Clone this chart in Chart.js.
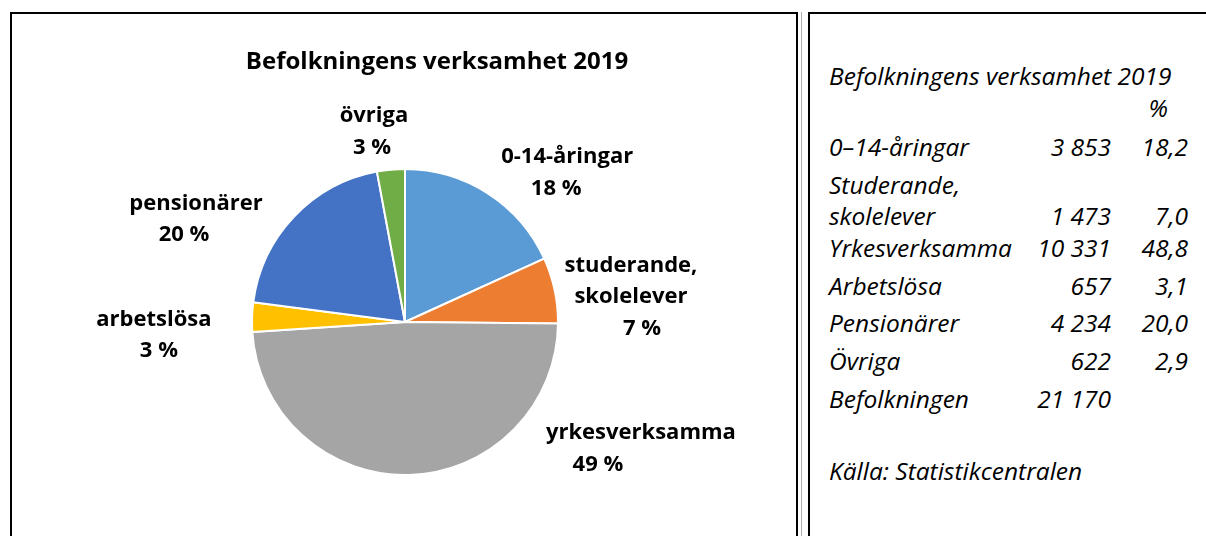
<!DOCTYPE html>
<html>
<head>
<meta charset="utf-8">
<script src="https://cdn.jsdelivr.net/npm/chart.js@4"></script>
<style>
  body { margin: 0; width: 1206px; height: 536px; overflow: hidden; background: #fff; position: relative; font-family: 'Open Sans', sans-serif; }
  #leftBox { position: absolute; left: 10px; top: 12px; width: 788px; height: 540px; border: 2px solid #000; border-bottom: none; box-sizing: border-box; }
  #sep { position: absolute; left: 801px; top: 12px; width: 1px; height: 530px; background: #b0b0b0; }
  #rightBox { position: absolute; left: 808px; top: 12px; width: 420px; height: 540px; border-left: 2px solid #000; border-top: 2px solid #000; box-sizing: border-box; }
  #chart { position: absolute; left: 0; top: 0; }
  #title { position: absolute; left: 237px; width: 400px; top: 44px; text-align: center; font: bold 24px 'Open Sans', sans-serif; line-height: 32px; color: #000; white-space: nowrap; }
  .t { position: absolute; font: italic 24.5px 'Open Sans', sans-serif; color: #000; white-space: nowrap; line-height: 26px; margin-top: -13px; }
  .r { text-align: right; }
</style>
</head>
<body>
<div id="leftBox"></div>
<div id="sep"></div>
<div id="rightBox"></div>
<canvas id="chart" width="810" height="536"></canvas>
<div id="title">Befolkningens verksamhet 2019</div>
<div id="table"></div>
<script>
var titleText = 'Befolkningens verksamhet 2019';
var pieLabels = ['0-14-åringar', 'studerande,\nskolelever', 'yrkesverksamma', 'arbetslösa', 'pensionärer', 'övriga'];
var tableLabels = ['0–14-åringar', 'Studerande,\nskolelever', 'Yrkesverksamma', 'Arbetslösa', 'Pensionärer', 'Övriga'];
var counts = [3853, 1473, 10331, 657, 4234, 622];
var shares = [18.2, 7.0, 48.8, 3.1, 20.0, 2.9];
var total = 21170;
var sourceText = 'Källa: Statistikcentralen';

var colors = ['#5B9BD5', '#ED7D31', '#A5A5A5', '#FFC000', '#4472C4', '#70AD47'];
// label block centre relative to the pie centre (in radii) and shift of the % line (px)
var labelAt = [[1.06, -0.974, -11], [1.477, -0.163, 11], [1.542, 0.827, -43], [-1.641, 0.088, 5], [-1.366, -0.673, -12], [-0.203, -1.242, -2]];

function fmt(n) { return String(n).replace(/\B(?=(\d{3})+(?!\d))/g, ' '); }

var pieLabelPlugin = {
  id: 'pieLabels',
  afterDatasetsDraw: function (chart) {
    var ctx = chart.ctx;
    var meta = chart.getDatasetMeta(0);
    ctx.save();
    ctx.font = 'bold 22px "Open Sans", sans-serif';
    ctx.fillStyle = '#000';
    ctx.textAlign = 'center';
    ctx.textBaseline = 'middle';
    meta.data.forEach(function (arc, i) {
      var p = arc.getProps(['x', 'y', 'outerRadius'], true);
      var lines = pieLabels[i].split('\n');
      var pct = Math.round(counts[i] / total * 100) + ' %';
      var n = lines.length + 1;
      var cx = p.x + labelAt[i][0] * p.outerRadius;
      var cy = p.y + labelAt[i][1] * p.outerRadius;
      var lh = 31.5;
      var y0 = cy - (n - 1) * lh / 2;
      lines.forEach(function (l, k) { ctx.fillText(l, cx, y0 + k * lh); });
      ctx.fillText(pct, cx + labelAt[i][2], y0 + (n - 1) * lh);
    });
    ctx.restore();
  }
};

var ctx = document.getElementById('chart').getContext('2d');
var chart = new Chart(ctx, {
  type: 'pie',
  data: {
    labels: pieLabels,
    datasets: [{
      data: counts,
      backgroundColor: colors,
      borderColor: '#ffffff',
      borderWidth: 2,
      radius: 153
    }]
  },
  options: {
    responsive: false,
    animation: false,
    layout: { padding: { top: 108, bottom: 0, left: 0, right: 0 } },
    plugins: {
      legend: { display: false },
      tooltip: { enabled: false }
    }
  },
  plugins: [pieLabelPlugin]
});

// table on the right
var table = document.getElementById('table');
function put(text, x, y, right, w) {
  var d = document.createElement('div');
  d.className = 't' + (right ? ' r' : '');
  d.textContent = text;
  d.style.top = y + 'px';
  if (right) { d.style.left = (x - w) + 'px'; d.style.width = w + 'px'; }
  else d.style.left = x + 'px';
  table.appendChild(d);
}
var nameX = 829, countX = 1111, pctX = 1188;
var rowY = [[147], [185, 216], [248], [286], [323], [361]];
put(titleText, nameX, 76);
put('%', 1168, 108, true, 40);
tableLabels.forEach(function (lab, i) {
  var lines = lab.split('\n');
  lines.forEach(function (l, k) { put(l, nameX, rowY[i][k]); });
  var yl = rowY[i][lines.length - 1];
  put(fmt(counts[i]), countX, yl, true, 120);
  put(shares[i].toFixed(1).replace('.', ','), pctX, yl, true, 70);
});
put('Befolkningen', nameX, 399);
put(fmt(total), countX, 399, true, 120);
put(sourceText, nameX, 471);
</script>
</body>
</html>
